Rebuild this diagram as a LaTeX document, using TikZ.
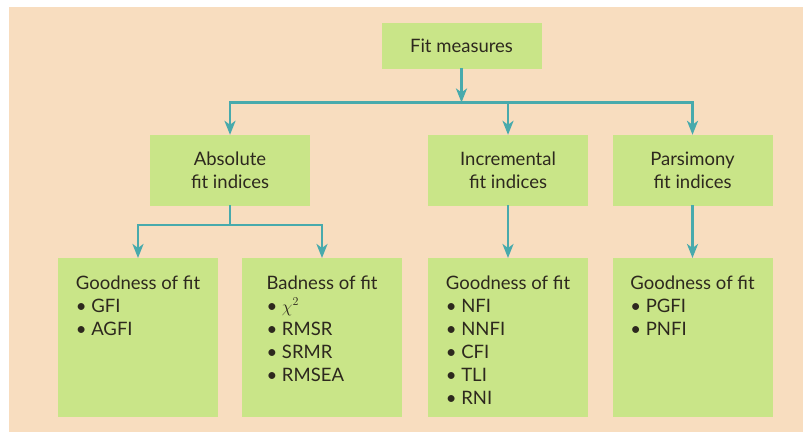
\documentclass[tikz,border=0pt]{standalone}
\usepackage{fontspec}
\setmainfont{Lato}
\usetikzlibrary{arrows.meta,positioning}
\definecolor{peach}{RGB}{248,221,191}
\definecolor{lime}{RGB}{201,229,136}
\definecolor{teal}{RGB}{72,170,172}
\definecolor{ink}{RGB}{45,40,30}
\tikzset{
  >={Stealth[length=14pt,width=11pt,inset=4pt]},
  head/.style={fill=lime,text=ink,minimum width=160pt,minimum height=#1,
    inner sep=0pt,align=center,font=\fontsize{18.5}{23}\selectfont},
  head/.default=71pt,
  leaf/.style={fill=lime,text=ink,minimum width=160pt,anchor=north,
    inner sep=0pt,text height=31pt,text depth=128pt,
    font=\fontsize{18.5}{23}\selectfont},
  link/.style={draw=teal,line width=2.6pt,line cap=rect},
  flow/.style={link,->},
}
\newcommand{\itm}{\textbullet\ }
\begin{document}
\begin{tikzpicture}[x=1pt,y=-1pt]
  \useasboundingbox (0,0) rectangle (803,432);
  \fill[peach] (9,7) rectangle (803,432);
  % top and middle row
  \node[head=46pt] (fit) at (461.5,46) {Fit measures};
  \node[head] (abs) at (230,170.5) {Absolute\\fit indices};
  \node[head] (inc) at (508,170.5) {Incremental\\fit indices};
  \node[head] (par) at (692.5,170.5) {Parsimony\\fit indices};
  % bottom row
  \node[leaf] (absgood) at (138,258) {\begin{tabular}[t]{@{}l@{}}Goodness of fit\\ \itm GFI\\ \itm AGFI\end{tabular}};
  \node[leaf] (absbad) at (322,258) {\begin{tabular}[t]{@{}l@{}}Badness of fit\\ \itm $\chi^2$\\ \itm RMSR\\ \itm SRMR\\ \itm RMSEA\end{tabular}};
  \node[leaf] (incgood) at (508,258) {\begin{tabular}[t]{@{}l@{}}Goodness of fit\\ \itm NFI\\ \itm NNFI\\ \itm CFI\\ \itm TLI\\ \itm RNI\end{tabular}};
  \node[leaf] (pargood) at (692.5,258) {\begin{tabular}[t]{@{}l@{}}Goodness of fit\\ \itm PGFI\\ \itm PNFI\end{tabular}};
  % connectors
  \coordinate (bus) at (0,102.5);
  \coordinate (sub) at (0,225);
  \draw[flow] (fit.south) -- (fit.south |- bus);
  \draw[link] (abs.north |- bus) -- (par.north |- bus);
  \foreach \n in {abs,inc,par}
    \draw[flow] (\n.north |- bus) -- (\n.north);
  \draw[link] (abs.south) -- (abs.south |- sub);
  \draw[link] (absgood.north |- sub) -- (absbad.north |- sub);
  \foreach \n in {absgood,absbad}
    \draw[flow] (\n.north |- sub) -- (\n.north);
  \draw[flow] (inc.south) -- (incgood.north);
  \draw[flow] (par.south) -- (pargood.north);
\end{tikzpicture}
\end{document}
